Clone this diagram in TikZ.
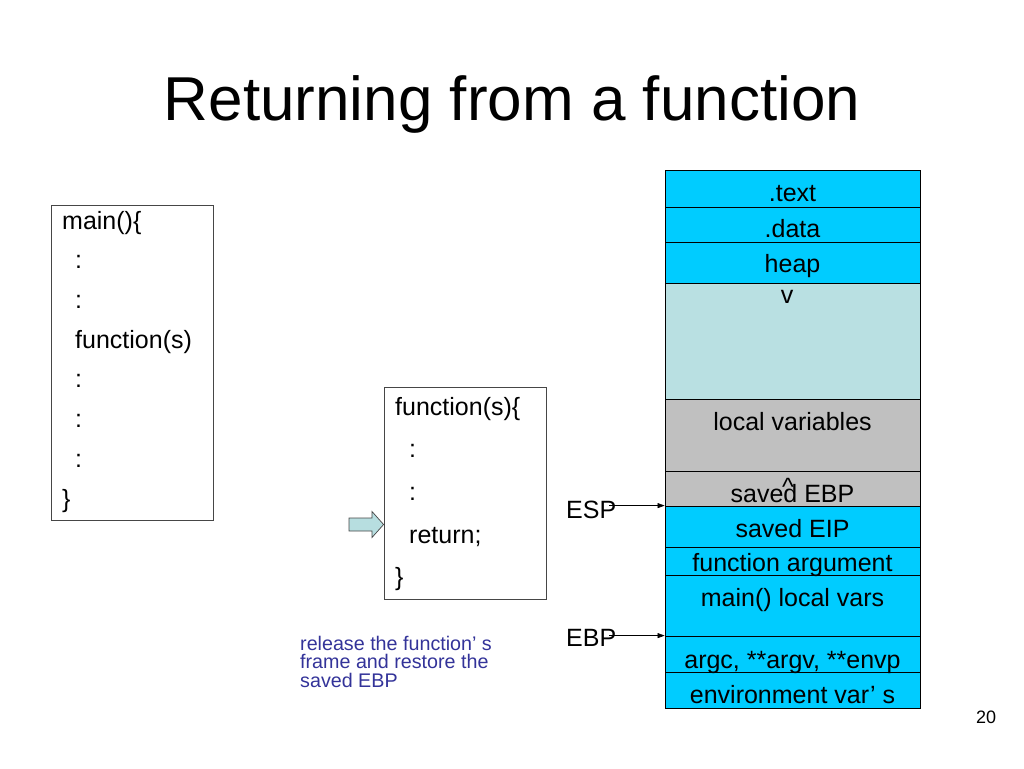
\documentclass[tikz,border=0pt]{standalone}
\usepackage{fontspec}
\setmainfont{Liberation Sans}
\usetikzlibrary{arrows.meta}
\definecolor{stackblue}{RGB}{0,204,255}
\definecolor{stacklight}{RGB}{185,224,226}
\definecolor{stackgray}{RGB}{192,192,192}
\definecolor{notecol}{RGB}{51,51,153}
\definecolor{arrowfill}{RGB}{183,222,224}
\definecolor{boxline}{RGB}{70,70,70}
\begin{document}
\begin{tikzpicture}[x=1pt,y=-1pt,
  body/.style={font=\fontsize{25}{30}\selectfont, inner sep=0pt},
  lbl/.style={body, anchor=base},
  codeline/.style={body, anchor=base west},
  row/.style={rectangle, draw=black, line width=0.8pt, minimum width=255pt, inner sep=0pt},
  codebox/.style={rectangle, draw=boxline, line width=0.8pt, inner sep=0pt},
  note/.style={font=\fontsize{19.7}{19}\selectfont, text=notecol, inner sep=0pt, anchor=base west},
  ptr/.style={-{Triangle[length=7pt,width=5pt]}, line width=0.6pt}]
\useasboundingbox (0,0) rectangle (1024,768);

% title
\node[font=\fontsize{62}{70}\selectfont, inner sep=0pt, anchor=base] (title) at (512,120) {Returning from a function};

% stack rows
\node[row, fill=stackblue, minimum height=37pt] (rtext) at (792.5,188.5) {};
\node[row, fill=stackblue, minimum height=35pt] (rdata) at (792.5,224.5) {};
\node[row, fill=stackblue, minimum height=41pt] (rheap) at (792.5,262.5) {};
\node[row, fill=stacklight, minimum height=116pt] (rfree) at (792.5,341) {};
\node[row, fill=stackgray, minimum height=72pt] (rlocals) at (792.5,435) {};
\node[row, fill=stackgray, minimum height=35pt] (rsebp) at (792.5,488.5) {};
\node[row, fill=stackblue, minimum height=41pt] (rseip) at (792.5,526.5) {};
\node[row, fill=stackblue, minimum height=28pt] (rfarg) at (792.5,561) {};
\node[row, fill=stackblue, minimum height=61pt] (rmlocal) at (792.5,605.5) {};
\node[row, fill=stackblue, minimum height=36pt] (rargc) at (792.5,654) {};
\node[row, fill=stackblue, minimum height=36pt] (renv) at (792.5,690) {};

% stack labels
\node[lbl] (ltext) at (792.5,201) {.text};
\node[lbl] (ldata) at (792.5,237) {.data};
\node[lbl] (lheap) at (792.5,272) {heap};
\node[lbl] (lv) at (787,303) {v};
\node[lbl] (llocals) at (792.5,430) {local variables};
\node[lbl] (lsebp) at (792.5,502) {saved EBP};
\node[lbl] (lcaret) at (788,495) {\^{}};
\node[lbl] (lseip) at (792.5,537) {saved EIP};
\node[lbl] (lfarg) at (792.5,571) {function argument};
\node[lbl] (lmlocal) at (792.5,606) {main() local vars};
\node[lbl] (largc) at (792.5,668) {argc, **argv, **envp};
\node[lbl] (lenv) at (792.5,703) {environment var’ s};

% pointers
\node[codeline] (esp) at (566,518) {ESP};
\node[codeline] (ebp) at (566,646) {EBP};
\draw[ptr] ([xshift=-7pt]esp.east |- rseip.north west) -- (rseip.north west);
\draw[ptr] ([xshift=-7pt]ebp.east |- rargc.north west) -- (rargc.north west);

% main box
\node[codebox, minimum width=162pt, minimum height=315pt] (mainbox) at (132,362.5) {};
\node[codeline] (m0) at (62,229) {main()\{};
\node[codeline] (m1) at (75,268.7) {:};
\node[codeline] (m2) at (75,308.4) {:};
\node[codeline] (m3) at (75,348) {function(s)};
\node[codeline] (m4) at (75,387.8) {:};
\node[codeline] (m5) at (75,427.5) {:};
\node[codeline] (m6) at (75,467) {:};
\node[codeline] (m7) at (62,507) {\}};

% function box
\node[codebox, minimum width=162pt, minimum height=212pt] (fbox) at (465,493) {};
\node[codeline] (f0) at (395,415) {function(s)\{};
\node[codeline] (f1) at (409,457.5) {:};
\node[codeline] (f2) at (409,500) {:};
\node[codeline] (f3) at (409,543) {return;};
\node[codeline] (f4) at (395,585) {\}};

% hollow block arrow
\draw[fill=arrowfill, draw=boxline, line width=0.7pt, line join=miter]
  (349,518) -- (372,518) -- (372,511.5) -- (fbox.west |- 0,524.5) -- (372,537.5) -- (372,531) -- (349,531) -- cycle;

% note
\node[note] (n1) at (300,650) {release the function’ s};
\node[note] (n2) at (300,668.5) {frame and restore the};
\node[note] (n3) at (300,687) {saved EBP};

% page number
\node[font=\fontsize{18}{20}\selectfont, inner sep=0pt, anchor=base] (page) at (986,723) {20};
\end{tikzpicture}
\end{document}
